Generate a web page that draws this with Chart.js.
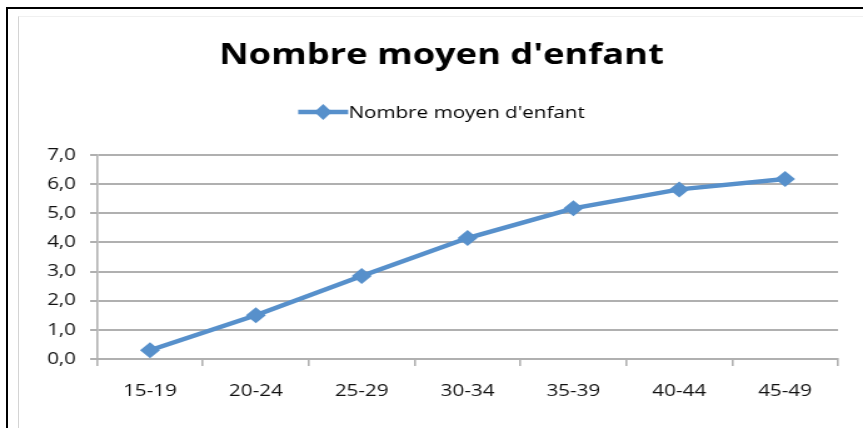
<!DOCTYPE html>
<html>
<head>
<meta charset="utf-8">
<script src="https://cdn.jsdelivr.net/npm/chart.js@4.4.1/dist/chart.umd.min.js"></script>
<style>
    html, body { margin: 0; padding: 0; background: #fff; }
    body { width: 863px; height: 428px; position: relative; overflow: hidden; }
    #frame-outer { position: absolute; left: 6px; top: 7px; right: -10px; bottom: -10px; border-left: 2px solid #000; border-top: 2px solid #000; }
    #frame-inner { position: absolute; left: 18px; top: 16px; right: -10px; bottom: -10px; border-left: 1px solid #d4d4d4; border-top: 1px solid #f0f0f0; }
    #chart { position: absolute; left: 0; top: 0; }
</style>
</head>
<body>
<div id="frame-outer"></div>
<div id="frame-inner"></div>
<!-- the reference is stretched sideways, so the chart is drawn 690 wide and shown 863 wide -->
<canvas id="chart" width="690" height="428" style="width:863px;height:428px;"></canvas>

<script>
/* ── DATA ───────────────────────────────────────────── */
var AGE_GROUPS    = ['15-19', '20-24', '25-29', '30-34', '35-39', '40-44', '45-49'];
var MEAN_CHILDREN = [0.3, 1.5, 2.85, 4.15, 5.17, 5.82, 6.18];
var Y_TICKS       = [0, 1, 2, 3, 4, 5, 6, 7];

var TITLE  = "Nombre moyen d'enfant";
var SERIES = "Nombre moyen d'enfant";

var BLUE = '#5790CB';
var GRID = '#B0B0B0';
var TEXT = '#111111';

Chart.defaults.font.family = "'Open Sans', sans-serif";
Chart.defaults.color = TEXT;

/* legend key: line + diamond, like the spreadsheet one */
var legendKey = {
    id: 'legendKey',
    afterDraw: function(chart) {
        var lg = chart.legend;
        if (!lg || !lg.legendHitBoxes || !lg.legendHitBoxes.length) return;
        var hb  = lg.legendHitBoxes[0];
        var ctx = chart.ctx;
        var y   = hb.top + hb.height / 2 - 1.5;
        var x0  = hb.left, x1 = hb.left + 40;
        var cx  = (x0 + x1) / 2, r = 7;
        ctx.save();
        ctx.strokeStyle = BLUE;
        ctx.lineWidth = 4.5;
        ctx.beginPath(); ctx.moveTo(x0, y); ctx.lineTo(x1, y); ctx.stroke();
        ctx.fillStyle = BLUE;
        ctx.beginPath();
        ctx.moveTo(cx - r, y); ctx.lineTo(cx, y - r * 1.15);
        ctx.lineTo(cx + r, y); ctx.lineTo(cx, y + r * 1.15);
        ctx.closePath(); ctx.fill();
        ctx.restore();
    }
};

new Chart(document.getElementById('chart'), {
    type: 'line',
    data: {
        labels: AGE_GROUPS,
        datasets: [{
            label: SERIES,
            data: MEAN_CHILDREN,
            borderColor: BLUE,
            backgroundColor: BLUE,
            borderWidth: 4.5,
            tension: 0,
            fill: false,
            pointStyle: 'rectRot',
            pointRadius: 8,
            pointBorderWidth: 0,
            pointBackgroundColor: BLUE
        }]
    },
    options: {
        responsive: false,
        devicePixelRatio: 1,
        animation: false,
        layout: { padding: { left: 36, right: 20, top: 0, bottom: 0 } },
        plugins: {
            title: {
                display: true,
                text: TITLE,
                color: '#000',
                font: { size: 29, weight: 'bold', lineHeight: 1.2 },
                padding: { top: 38.6, bottom: 0 }
            },
            legend: {
                display: true,
                labels: {
                    boxWidth: 32,
                    boxHeight: 63,
                    padding: 8.6,
                    color: TEXT,
                    font: { size: 16.5 },
                    generateLabels: function(chart) {
                        return chart.data.datasets.map(function(ds, i) {
                            return { text: ds.label, fillStyle: 'rgba(0,0,0,0)', strokeStyle: 'rgba(0,0,0,0)', lineWidth: 0, datasetIndex: i };
                        });
                    }
                }
            },
            tooltip: { enabled: false }
        },
        scales: {
            x: {
                offset: true,
                grid: { offset: true, drawOnChartArea: false, drawTicks: true, tickLength: 7, color: GRID, lineWidth: 1.6 },
                border: { color: GRID, width: 2 },
                ticks: { font: { size: 16.5 }, color: TEXT, padding: 15.5 },
                afterFit: function(s) { s.height = 69; }
            },
            y: {
                min: 0,
                max: 7,
                afterBuildTicks: function(s) { s.ticks = Y_TICKS.map(function(v) { return { value: v }; }); },
                grid: { color: GRID, lineWidth: 2, tickLength: 5.6 },
                border: { color: GRID, width: 1.6 },
                ticks: {
                    font: { size: 16.5 }, color: TEXT, padding: 11.2,
                    callback: function(v) { return Number(v).toFixed(1).replace('.', ','); }
                },
                afterFit: function(s) { s.width = 41.6; }
            }
        }
    },
    plugins: [legendKey]
});
</script>
</body>
</html>
